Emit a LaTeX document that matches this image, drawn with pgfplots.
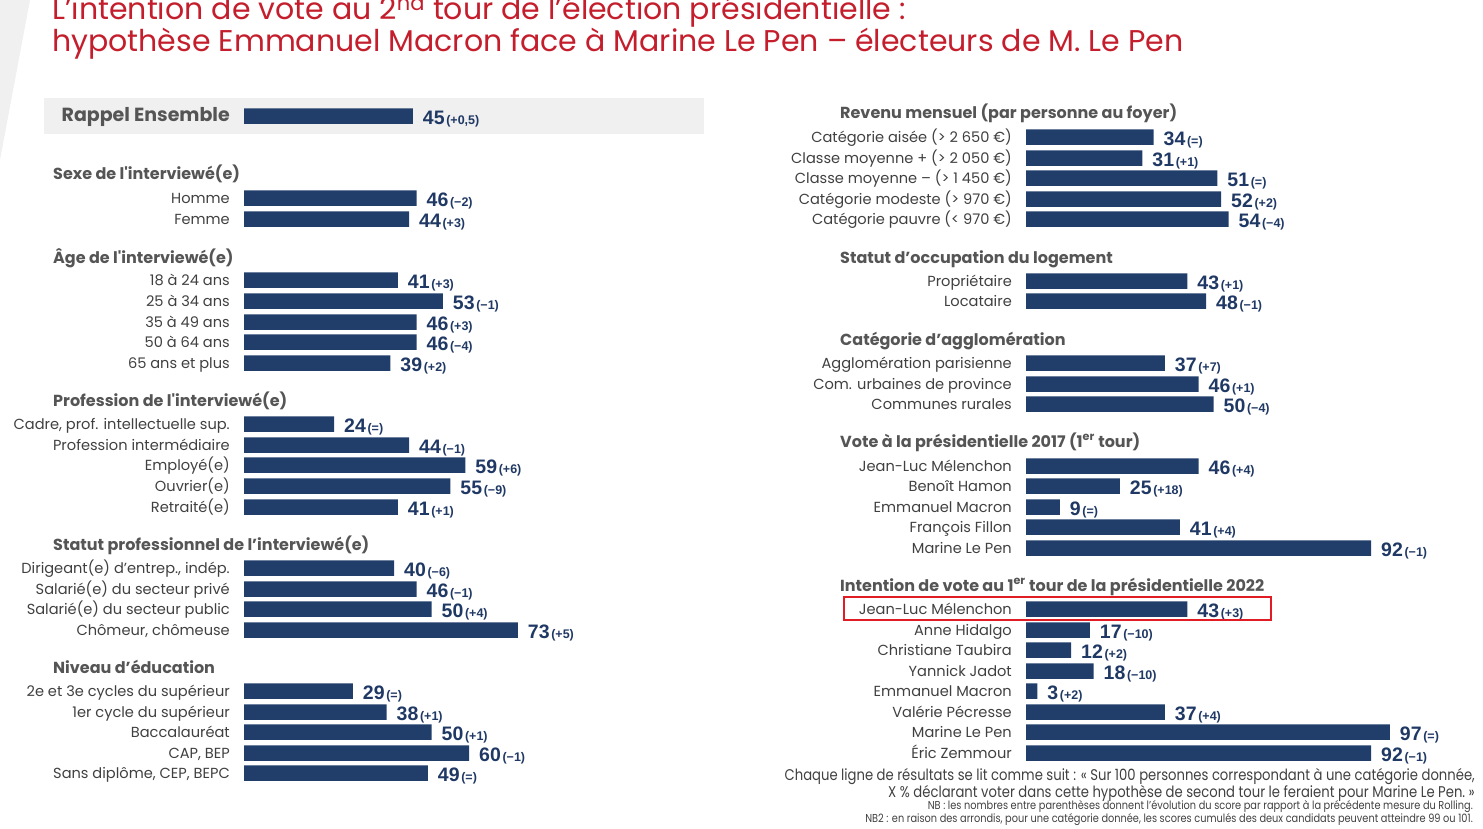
\documentclass[border=0pt]{standalone}
\usepackage{pgfplots}
\pgfplotsset{compat=1.18}
\usepackage{pgfplotstable}
\usepackage{fontspec}
\setmainfont{Poppins}
\newfontfamily\numfont{Liberation Sans}
\newfontfamily\notefont[FakeStretch=0.85]{Poppins}
\definecolor{barblue}{RGB}{33,62,106}
\definecolor{numblue}{RGB}{31,56,100}
\definecolor{labgray}{RGB}{64,64,64}
\definecolor{headgray}{RGB}{85,85,85}
\definecolor{titlered}{RGB}{196,30,45}
\definecolor{boxgray}{RGB}{240,240,240}
\definecolor{framered}{RGB}{226,28,36}

\pgfplotstableread{
y v c
116 45 (+0,5)
198 46 (−2)
219 44 (+3)
280 41 (+3)
301 53 (−1)
322 46 (+3)
342 46 (−4)
363 39 (+2)
424 24 (=)
445 44 (−1)
465 59 (+6)
486 55 (−9)
507 41 (+1)
568 40 (−6)
589 46 (−1)
609 50 (+4)
630 73 (+5)
691 29 (=)
712 38 (+1)
732 50 (+1)
753 60 (−1)
773 49 (=)
}\lefttab

\pgfplotstableread{
y v c
137 34 (=)
158 31 (+1)
178 51 (=)
199 52 (+2)
219 54 (−4)
281 43 (+1)
301 48 (−1)
363 37 (+7)
384 46 (+1)
404 50 (−4)
466 46 (+4)
486 25 (+18)
507 9 (=)
527 41 (+4)
548 92 (−1)
609 43 (+3)
630 17 (−10)
650 12 (+2)
671 18 (−10)
691 3 (+2)
712 37 (+4)
732 97 (=)
753 92 (−1)
}\righttab

\pgfplotsset{
 barstyle/.style={
  scale only axis, width=375pt, height=829pt,
  xmin=0, xmax=100, ymin=0, ymax=829, y dir=reverse,
  xbar, bar width=15.5pt,
  axis line style={draw=none}, xtick=\empty, major tick length=0pt,
  yticklabel style={anchor=base east, inner sep=0pt, xshift=-14pt, yshift=-5pt,
    font=\fontsize{14.6}{14.6}\selectfont, text=labgray},
  clip=false,
 },
 barplot/.style={
  fill=barblue, draw=none,
  point meta=explicit symbolic,
  visualization depends on={x \as \myx},
  nodes near coords={\numfont\bfseries{\fontsize{19.5}{19.5}\selectfont\pgfmathprintnumber[assume math mode=true,fixed,precision=1]{\myx}}\,{\fontsize{12.5}{12.5}\selectfont\pgfplotspointmeta}},
  every node near coord/.append style={anchor=base west, inner sep=0pt, xshift=10pt, yshift=-8pt, text=numblue},
 }
}

\begin{document}
\begin{tikzpicture}
\path[use as bounding box] (0pt,0pt) rectangle (1483pt,-829pt);
\begin{scope}[x=1pt,y=-1pt]
\fill[boxgray] (0,0) -- (30,0) -- (0,160) -- cycle;
\fill[boxgray] (44,98) rectangle (704,134);
\end{scope}

\begin{axis}[barstyle, at={(244pt,0pt)}, anchor=north west,
  ytick={116,198,219,280,301,322,342,363,424,445,465,486,507,568,589,609,630,691,712,732,753,773},
  yticklabels={{\bfseries\fontsize{19}{19}\selectfont\color{headgray}Rappel Ensemble},
    Homme, Femme,
    18 à 24 ans, 25 à 34 ans, 35 à 49 ans, 50 à 64 ans, 65 ans et plus,
    {Cadre, prof. intellectuelle sup.}, Profession intermédiaire, Employé(e), Ouvrier(e), Retraité(e),
    {Dirigeant(e) d'entrep., indép.}, Salarié(e) du secteur privé, Salarié(e) du secteur public, {Chômeur, chômeuse},
    2e et 3e cycles du supérieur, 1er cycle du supérieur, Baccalauréat, {CAP, BEP}, {Sans diplôme, CEP, BEPC}},
]
\addplot[barplot] table[x=v, y=y, meta=c] {\lefttab};
\end{axis}

\begin{axis}[barstyle, at={(1026pt,0pt)}, anchor=north west,
  ytick={137,158,178,199,219,281,301,363,384,404,466,486,507,527,548,609,630,650,671,691,712,732,753},
  yticklabels={Catégorie aisée (> 2~650 €), Classe moyenne + (> 2~050 €), Classe moyenne – (> 1~450 €),
    Catégorie modeste (> 970 €), Catégorie pauvre (< 970 €),
    Propriétaire, Locataire,
    Agglomération parisienne, Com. urbaines de province, Communes rurales,
    Jean-Luc Mélenchon, Benoît Hamon, Emmanuel Macron, François Fillon, Marine Le Pen,
    Jean-Luc Mélenchon, Anne Hidalgo, Christiane Taubira, Yannick Jadot, Emmanuel Macron,
    Valérie Pécresse, Marine Le Pen, Éric Zemmour},
]
\addplot[barplot] table[x=v, y=y, meta=c] {\righttab};
\end{axis}

\begin{scope}[x=1pt,y=-1pt]
\tikzset{head/.style={anchor=base west, inner sep=0pt, yshift=-6pt, font=\bfseries\fontsize{16}{16}\selectfont, text=headgray}}
\node[anchor=base west, inner sep=0pt, font=\fontsize{30}{30}\selectfont, text=titlered] at (52,20)
  {L'intention de vote au 2\textsuperscript{nd} tour de l'élection présidentielle :};
\node[anchor=base west, inner sep=0pt, font=\fontsize{30}{30}\selectfont, text=titlered] at (52,52)
  {hypothèse Emmanuel Macron face à Marine Le Pen – électeurs de M. Le Pen};
\node[head] at (53,174) {Sexe de l\textquotesingle interviewé(e)};
\node[head] at (53,257) {Âge de l\textquotesingle interviewé(e)};
\node[head] at (53,400) {Profession de l\textquotesingle interviewé(e)};
\node[head] at (53,544) {Statut professionnel de l’interviewé(e)};
\node[head] at (53,667) {Niveau d’éducation};
\node[head] at (840,113) {Revenu mensuel (par personne au foyer)};
\node[head] at (840,257) {Statut d’occupation du logement};
\node[head] at (840,339) {Catégorie d’agglomération};
\node[head] at (840,441) {Vote à la présidentielle 2017 (1\textsuperscript{er} tour)};
\node[head] at (840,585) {Intention de vote au 1\textsuperscript{er} tour de la présidentielle 2022};
\draw[framered, line width=2.6pt] (844,597) rectangle (1271,620);
\node[anchor=east, inner sep=0pt, font=\notefont\fontsize{15.5}{15.5}\selectfont, text=labgray] at (1475,777)
  {Chaque ligne de résultats se lit comme suit : «~Sur 100 personnes correspondant à une catégorie donnée,};
\node[anchor=east, inner sep=0pt, font=\notefont\fontsize{15.5}{15.5}\selectfont, text=labgray] at (1475,793)
  {X~\% déclarant voter dans cette hypothèse de second tour le feraient pour Marine Le Pen.~»};
\node[anchor=east, inner sep=0pt, font=\notefont\fontsize{11.5}{11.5}\selectfont, text=labgray] at (1473,807)
  {NB : les nombres entre parenthèses donnent l’évolution du score par rapport à la précédente mesure du Rolling.};
\node[anchor=east, inner sep=0pt, font=\notefont\fontsize{11.5}{11.5}\selectfont, text=labgray] at (1473,820)
  {NB2 : en raison des arrondis, pour une catégorie donnée, les scores cumulés des deux candidats peuvent atteindre 99 ou 101.};
\end{scope}
\end{tikzpicture}
\end{document}
